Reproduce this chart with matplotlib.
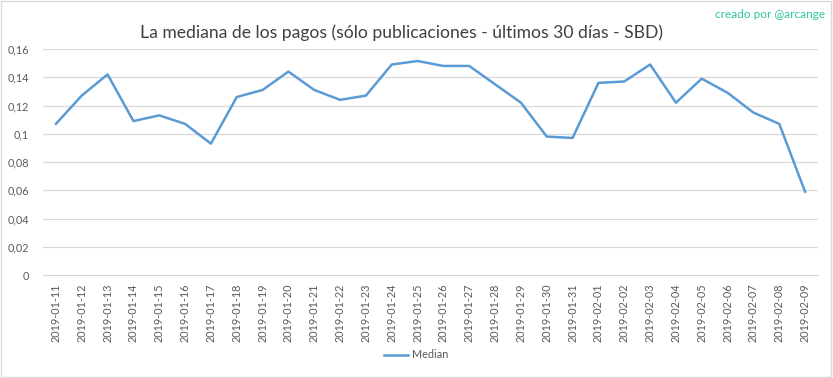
import matplotlib
matplotlib.use("Agg")
import matplotlib.pyplot as plt
from matplotlib.patches import Rectangle

dates = ["2019-01-11", "2019-01-12", "2019-01-13", "2019-01-14", "2019-01-15",
         "2019-01-16", "2019-01-17", "2019-01-18", "2019-01-19", "2019-01-20",
         "2019-01-21", "2019-01-22", "2019-01-23", "2019-01-24", "2019-01-25",
         "2019-01-26", "2019-01-27", "2019-01-28", "2019-01-29", "2019-01-30",
         "2019-01-31", "2019-02-01", "2019-02-02", "2019-02-03", "2019-02-04",
         "2019-02-05", "2019-02-06", "2019-02-07", "2019-02-08", "2019-02-09"]
median = [0.107, 0.127, 0.142, 0.109, 0.113, 0.107, 0.093, 0.126, 0.131, 0.144,
          0.131, 0.124, 0.127, 0.149, 0.1515, 0.148, 0.148, 0.135, 0.122, 0.098,
          0.097, 0.136, 0.137, 0.149, 0.122, 0.139, 0.129, 0.115, 0.107, 0.059]
yticks = [0, 0.02, 0.04, 0.06, 0.08, 0.1, 0.12, 0.14, 0.16]
ytick_labels = ["0", "0,02", "0,04", "0,06", "0,08", "0,1", "0,12", "0,14", "0,16"]

plt.rcParams['font.family'] = ['Lato', 'DejaVu Sans']

fig = plt.figure(figsize=(8.33, 3.78), dpi=100)
fig.patch.set_facecolor("white")
fig.patches.append(Rectangle((0.001, 0.002), 0.997, 0.995, transform=fig.transFigure,
                             fill=False, edgecolor="#d9d9d9", linewidth=1))

ax = fig.add_axes([43/833, 1-275/378, (818-43)/833, (275-49)/378])
x = list(range(len(dates)))
line, = ax.plot(x, median, color="#5b9bd5", linewidth=1.8, label="Median")
ax.set_xlim(-0.5, len(dates) - 0.5)
ax.set_ylim(0, 0.16)
ax.set_yticks(yticks)
ax.set_yticklabels(ytick_labels)
ax.set_xticks(x)
ax.set_xticklabels(dates, rotation=90)
ax.grid(axis="y", color="#d9d9d9", linewidth=0.9)
ax.set_axisbelow(True)
for s in ["top", "right", "left"]:
    ax.spines[s].set_visible(False)
ax.spines["bottom"].set_color("#d9d9d9")
ax.tick_params(axis="both", length=0, labelsize=7.8, colors="#595959")
ax.tick_params(axis="y", pad=10)
ax.tick_params(axis="x", pad=6)

fig.text(0.482, 1-33/378, "La mediana de los pagos (sólo publicaciones - últimos 30 días - SBD)",
         ha="center", va="center", fontsize=12.6, color="#404040")
fig.text(0.99, 1-14/378, "creado por @arcange", ha="right", va="center",
         fontsize=8.5, color="#2ec4a0")

fig.legend(handles=[line], loc="center", bbox_to_anchor=(0.5, 1-355/378), frameon=False,
           fontsize=7.8, labelcolor="#595959", handlelength=2.2, handletextpad=0.4)

fig.savefig("out.png", dpi=100, facecolor="white")
